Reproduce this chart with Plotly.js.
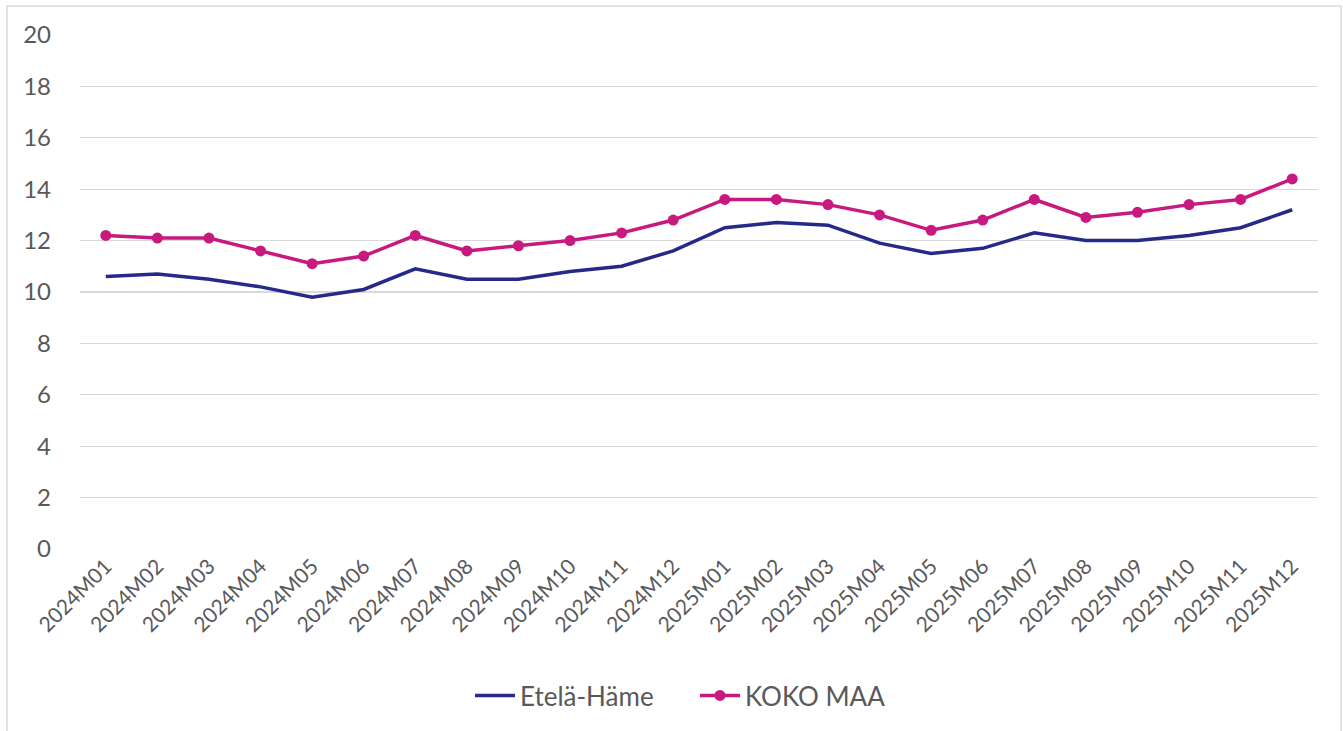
<!DOCTYPE html>
<html>
<head>
<meta charset="utf-8">
<script src="https://cdn.plot.ly/plotly-3.0.1.min.js"></script>
<style>
  html, body { margin: 0; padding: 0; background: #ffffff; }
  #chart { width: 1343px; height: 731px; }
</style>
</head>
<body>
<div id="chart"></div>
<script>
const categories = [
  "2024M01","2024M02","2024M03","2024M04","2024M05","2024M06",
  "2024M07","2024M08","2024M09","2024M10","2024M11","2024M12",
  "2025M01","2025M02","2025M03","2025M04","2025M05","2025M06",
  "2025M07","2025M08","2025M09","2025M10","2025M11","2025M12"
];
const etelaHame = [
  10.6, 10.7, 10.5, 10.2, 9.8, 10.1,
  10.9, 10.5, 10.5, 10.8, 11.0, 11.6,
  12.5, 12.7, 12.6, 11.9, 11.5, 11.7,
  12.3, 12.0, 12.0, 12.2, 12.5, 13.2
];
const kokoMaa = [
  12.2, 12.1, 12.1, 11.6, 11.1, 11.4,
  12.2, 11.6, 11.8, 12.0, 12.3, 12.8,
  13.6, 13.6, 13.4, 13.0, 12.4, 12.8,
  13.6, 12.9, 13.1, 13.4, 13.6, 14.4
];
const yTicks = [0, 2, 4, 6, 8, 10, 12, 14, 16, 18, 20];

const FONT = 'Lato, "Open Sans", sans-serif';
const TEXT = '#595959';

const traces = [
  {
    x: categories, y: etelaHame, name: 'Etelä-Häme',
    type: 'scatter', mode: 'lines',
    line: { color: '#252a8a', width: 3.5 }
  },
  {
    x: categories, y: kokoMaa, name: 'KOKO MAA',
    type: 'scatter', mode: 'lines+markers',
    line: { color: '#c8197f', width: 3.5 },
    marker: { color: '#c8197f', size: 11 }
  }
];

const layout = {
  width: 1343, height: 731,
  margin: { l: 80, r: 25, t: 35, b: 180 },
  paper_bgcolor: '#ffffff', plot_bgcolor: '#ffffff',
  font: { family: FONT, color: TEXT, size: 20 },
  showlegend: true,
  legend: {
    orientation: 'h', x: 0.315, xanchor: 'left',
    y: -0.285, yanchor: 'middle',
    font: { family: FONT, size: 26, color: TEXT },
    itemwidth: 40,
    entrywidth: 170, entrywidthmode: 'pixels'
  },
  xaxis: {
    type: 'category',
    range: [-0.5, 23.5],
    tickangle: -45,
    tickfont: { family: FONT, size: 21, color: TEXT },
    showgrid: false, zeroline: false,
    showline: false, ticks: '', fixedrange: true
  },
  yaxis: {
    range: [0, 20],
    tickmode: 'array', tickvals: yTicks, ticktext: yTicks.map(String),
    tickfont: { family: FONT, size: 24, color: TEXT },
    showgrid: true, gridcolor: '#d9d9d9', gridwidth: 1.2,
    zeroline: false, showline: false, ticks: '',
    ticklabelstandoff: 28, fixedrange: true
  },
  shapes: [
    {
      type: 'rect', xref: 'paper', yref: 'paper',
      x0: -0.0590, x1: 1.0186, y0: -0.37, y1: 1.0562,
      line: { color: '#d9d9d9', width: 1.5 }, fillcolor: 'rgba(0,0,0,0)',
      layer: 'below'
    }
  ]
};

Plotly.newPlot('chart', traces, layout, { displayModeBar: false, staticPlot: true });
</script>
</body>
</html>
